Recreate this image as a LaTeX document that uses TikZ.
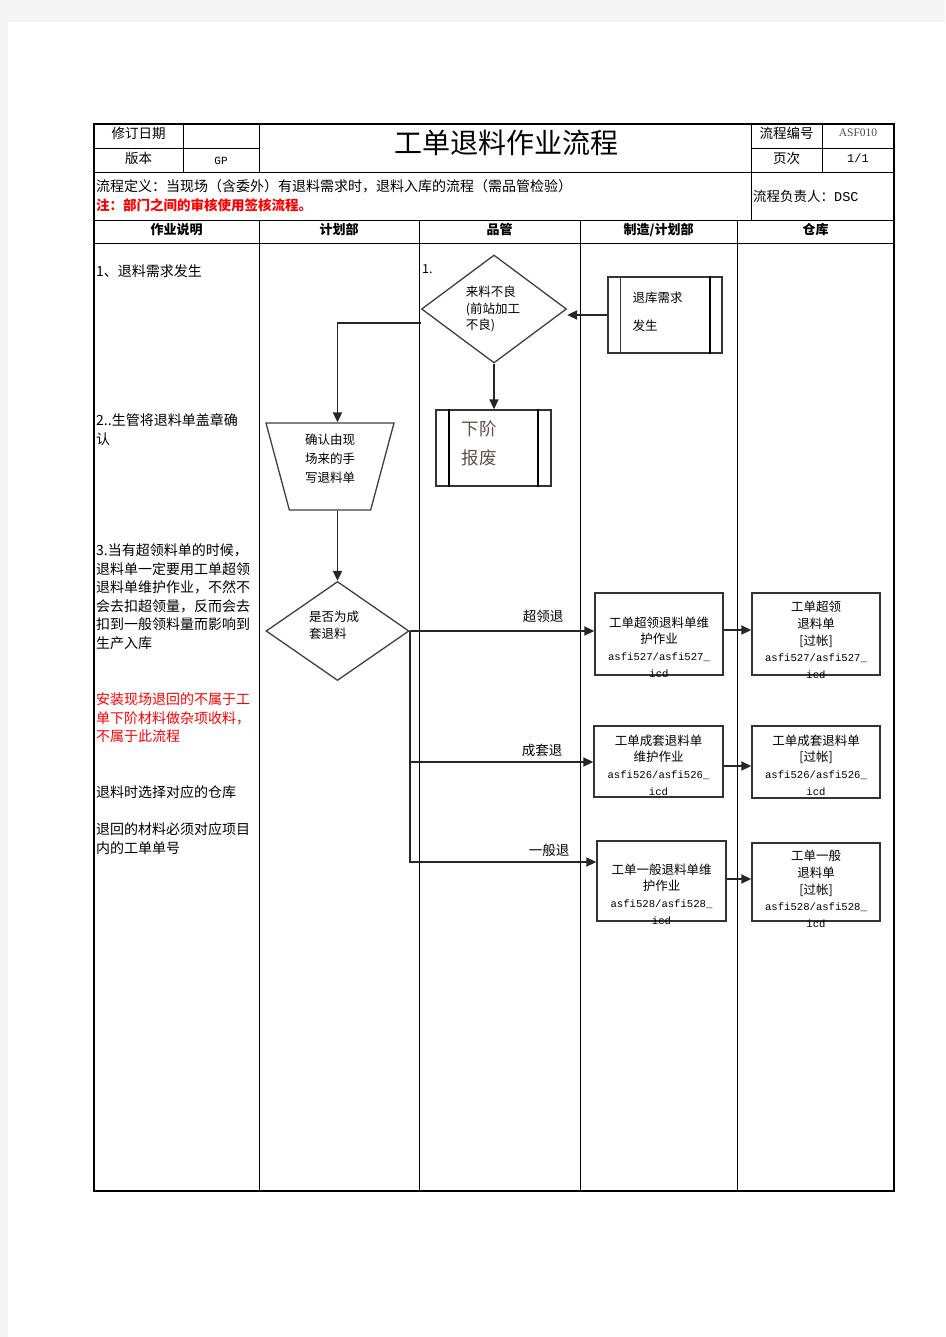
\documentclass[tikz,border=0pt]{standalone}
\usepackage{fontspec}
\setmainfont{Noto Sans CJK SC}
\newfontfamily\codefont{Liberation Mono}
\newfontfamily\romfont{Liberation Serif}
\usetikzlibrary{shapes.geometric,arrows.meta}
\newcommand\asfi{\codefont\fontsize{10.6}{16.7}\selectfont}
\tikzset{
  tabline/.style={line width=0.9pt, black},
  cell/.style={inner sep=0pt, font=\fontsize{13.5}{13.5}\selectfont},
  head/.style={inner sep=0pt, font=\bfseries\fontsize{13}{13}\selectfont},
  note/.style={inner sep=0pt, anchor=north west, align=left, font=\fontsize{14}{18.6}\selectfont},
  shp/.style={draw=black!75, line width=1.3pt, inner sep=0pt},
  pbox/.style={draw=black!80, line width=1.4pt, rectangle, inner sep=0pt},
  ftext/.style={inner sep=0pt, align=center, font=\fontsize{12.5}{16.7}\selectfont},
  lab/.style={inner sep=0pt, font=\fontsize{13.5}{13.5}\selectfont},
  link/.style={line width=1.8pt, black!85, -{Triangle[length=10pt,width=9pt]}},
}
\begin{document}
\begin{tikzpicture}[x=1pt,y=-1pt]
\useasboundingbox (0,0) rectangle (945,1337);
\fill[black!4] (0,0) rectangle (945,1337);
\fill[white] (8,22) rectangle (945,1337);
\draw[tabline, line width=1.3pt] (94,124) rectangle (894,1191);
\draw[tabline] (94,148) -- (259,148) (751,148) -- (894,148) (94,172) -- (894,172)
  (94,220) -- (894,220) (94,243) -- (894,243);
\draw[tabline] (183,124) -- (183,172) (259,124) -- (259,172) (751,124) -- (751,220) (822,124) -- (822,172);
\foreach \x in {259,419,580,737} \draw[tabline] (\x,220) -- (\x,1191);

\node[cell] (rev) at (138.5,133) {修订日期};
\node[cell] (ver) at (138.5,158) {版本};
\node[cell, font=\codefont\fontsize{11}{11}\selectfont] (gp) at (221,161) {GP};
\node[inner sep=0pt, font=\fontsize{28}{28}\selectfont] (title) at (506,143) {工单退料作业流程};
\node[cell] (no) at (786.5,133) {流程编号};
\node[cell, text=black!70, font=\romfont\fontsize{11.5}{11.5}\selectfont] (asf) at (858,133) {ASF010};
\node[cell] (pg) at (786.5,158) {页次};
\node[cell, font=\codefont\fontsize{12}{12}\selectfont] (pgn) at (858,158) {1/1};
\node[cell, anchor=west, font=\fontsize{14}{14}\selectfont] (def) at (96,186) {流程定义：当现场（含委外）有退料需求时，退料入库的流程（需品管检验）};
\node[cell, anchor=west, text=red, font=\bfseries\fontsize{13.5}{13.5}\selectfont] (rem) at (96,205) {注：部门之间的审核使用签核流程。};
\node[cell, anchor=west] (own) at (753,196) {流程负责人：{\codefont DSC}};
\node[head] (h1) at (176.5,230) {作业说明};
\node[head] (h2) at (339,230) {计划部};
\node[head] (h3) at (499.5,230) {品管};
\node[head] (h4) at (658.5,230) {制造/计划部};
\node[head] (h5) at (815.5,230) {仓库};

\node[note] (s1) at (96,264.5) {1、退料需求发生};
\node[note] (s2) at (96,413.5) {2..生管将退料单盖章确\\认};
\node[note] (s3) at (96,543.5) {3.当有超领料单的时候，\\退料单一定要用工单超领\\退料单维护作业，不然不\\会去扣超领量，反而会去\\扣到一般领料量而影响到\\生产入库};
\node[note, text=red] (s4) at (96,692.5) {安装现场退回的不属于工\\单下阶材料做杂项收料，\\不属于此流程};
\node[note] (s5) at (96,785.5) {退料时选择对应的仓库};
\node[note] (s6) at (96,822.5) {退回的材料必须对应项目\\内的工单单号};

\node[lab, anchor=west, font=\fontsize{12.5}{12.5}\selectfont] (n1) at (422,269) {1.};
\node[shp, diamond, minimum width=145pt, minimum height=108pt] (d1) at (494,309) {};
\node[ftext, align=left] (d1t) at (493,309) {来料不良\\(前站加工\\不良)};
\node[pbox, minimum width=114pt, minimum height=76pt] (r1) at (665,315) {};
\draw[black!80, line width=1.2pt] ([xshift=13pt]r1.north west) -- ([xshift=13pt]r1.south west);
\draw[black, line width=2.2pt] ([xshift=-13pt]r1.north east) -- ([xshift=-13pt]r1.south east);
\node[ftext, align=left, font=\fontsize{12.5}{28}\selectfont] (r1t) at (657.5,312) {退库需求\\发生};
\node[pbox, minimum width=115pt, minimum height=76pt] (r2) at (493.5,448) {};
\draw[black, line width=2pt] ([xshift=14pt]r2.north west) -- ([xshift=14pt]r2.south west);
\draw[black, line width=2pt] ([xshift=-14pt]r2.north east) -- ([xshift=-14pt]r2.south east);
\node[ftext, align=left, text={rgb,255:red,95;green,80;blue,75}, font=\fontsize{17.5}{29}\selectfont] (r2t) at (479,443.5) {下阶\\报废};
\node[shp, trapezium, shape border rotate=180, trapezium stretches=true, trapezium angle=74,
  inner sep=2pt, minimum width=128pt, minimum height=87pt] (tr) at (330,466.5) {};
\node[ftext, font=\fontsize{12.5}{19}\selectfont] (trt) at (330,459) {确认由现\\场来的手\\写退料单};
\node[shp, diamond, minimum width=143pt, minimum height=99pt] (d2) at (337.5,631) {};
\node[ftext, align=left] (d2t) at (334,625) {是否为成\\套退料};

\node[pbox, minimum width=128pt, minimum height=82pt] (a1) at (659,634) {};
\node[ftext] (a1t) at (659,647) {工单超领退料单维\\护作业\\\asfi asfi527/asfi527\_\\\asfi icd};
\node[pbox, minimum width=128pt, minimum height=82pt] (a2) at (816,634) {};
\node[ftext] (a2t) at (816,640) {工单超领\\退料单\\{[}过帐{]}\\\asfi asfi527/asfi527\_\\\asfi icd};
\node[pbox, minimum width=129pt, minimum height=71pt] (b1) at (658.5,761.5) {};
\node[ftext] (b1t) at (658.5,765) {工单成套退料单\\维护作业\\\asfi asfi526/asfi526\_\\\asfi icd};
\node[pbox, minimum width=128pt, minimum height=72pt] (b2) at (816,762) {};
\node[ftext] (b2t) at (816,765) {工单成套退料单\\{[}过帐{]}\\\asfi asfi526/asfi526\_\\\asfi icd};
\node[pbox, minimum width=129pt, minimum height=80pt] (c1) at (661.5,881) {};
\node[ftext] (c1t) at (661.5,894) {工单一般退料单维\\护作业\\\asfi asfi528/asfi528\_\\\asfi icd};
\node[pbox, minimum width=128pt, minimum height=78pt] (c2) at (816,882) {};
\node[ftext] (c2t) at (816,889) {工单一般\\退料单\\{[}过帐{]}\\\asfi asfi528/asfi528\_\\\asfi icd};

\draw[link] (r1.west) -- (r1.west -| d1.east);
\draw[link] (d1.south) -- (d1.south |- r2.north);
\draw[link] ([yshift=-14pt]d1.west) -| (d2.north |- tr.north);
\draw[link] (d2.north |- tr.south) -- (d2.north);
\draw[link] (d2.east) -- (d2.east -| a1.west);
\draw[link] (d2.east) |- ([yshift=-0.5pt]b1.west);
\draw[link] (d2.east) |- ([yshift=19pt]c1.west);
\draw[link] ([yshift=4pt]a1.east) -- ([yshift=4pt]a1.east -| a2.west);
\draw[link] ([yshift=-4.5pt]b1.east) -- ([yshift=-4.5pt]b1.east -| b2.west);
\draw[link] ([yshift=2pt]c1.east) -- ([yshift=2pt]c1.east -| c2.west);
\node[lab] (l1) at (543,616) {超领退};
\node[lab] (l2) at (542,750) {成套退};
\node[lab] (l3) at (549,850) {一般退};
\end{tikzpicture}
\end{document}
